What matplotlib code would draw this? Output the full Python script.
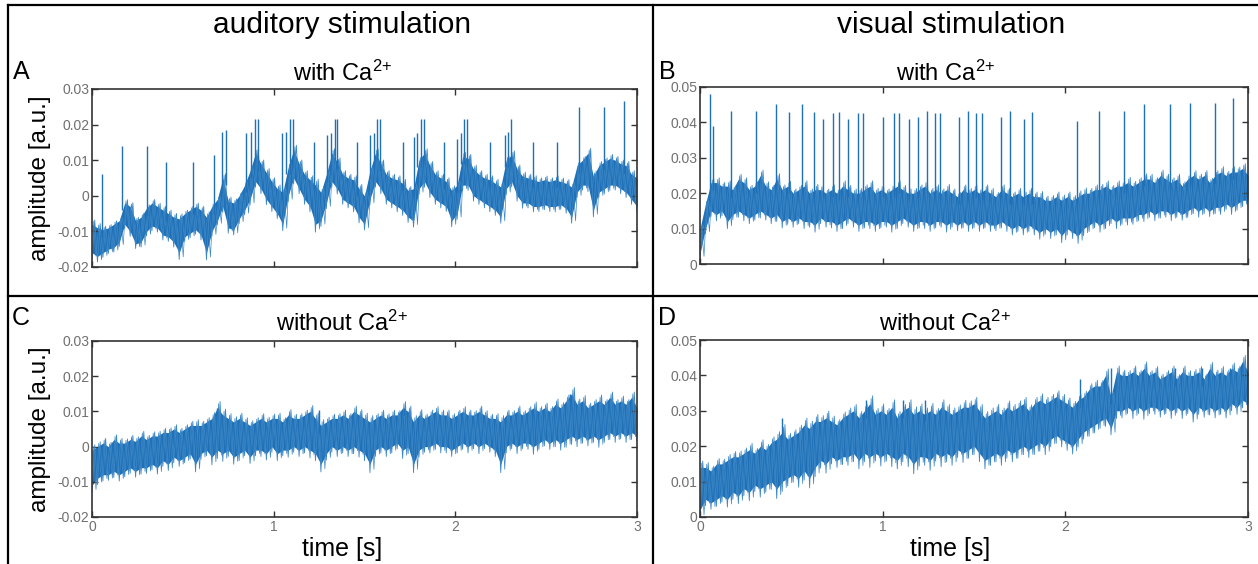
import numpy as np
import matplotlib
matplotlib.use('Agg')
import matplotlib.pyplot as plt
from matplotlib.lines import Line2D

plt.rcParams['font.family'] = ['Liberation Sans', 'DejaVu Sans']
plt.rcParams['mathtext.default'] = 'regular'

# all traces in units of 1e-3 a.u., lower / upper edge of the noise band,
# sampled every 0.03 s from 0 to 3 s
a_lo = [-16, -17, -16, -15, -14.5, -13, -8, -10, -13.5, -13,
        -10, -8.5, -9, -11, -11.5, -13, -16, -11.5, -10.5, -9.5,
        -11, -16, -10, -7, -3, -9, -9.5, -6.5, -4, -1,
        4, 2, -1, -3, -5, -8, 0, 5, 2, -1,
        -3, -8, -7, -2, 4, 2, -1, -2, -3, -6,
        -8, -1, 4, 2, -1, -2, -3, -4, -6, -7,
        2, 4, 1, -1, -2, -3, -7, -5, 3, 3,
        0, -1, -2, -3, -4, -6, 2, 4, 0, -2,
        -2, -3, -3, -2.5, -3, -3, -2.5, -3.5, -6, 1,
        3, 3, -4, 1, 2, 3, 3, 2, 1, -1,
        -3]
a_hi = [-8, -9, -9.5, -9, -8, -7, -2, -3, -7, -6,
        -3.5, -2, -3, -4, -5, -6, -6.5, -5, -4, -3,
        -4, -6, -3, -1, 5, -1.5, -2, 0, 3, 7,
        12, 9, 6.5, 4, 2, 1, 8, 13, 9, 6,
        4.5, 3, 1, 6, 12, 9.5, 6, 5, 4.5, 2,
        0, 7, 12, 9, 6, 5, 4.5, 3.5, 1.5, 2,
        10, 12, 8.5, 6, 5, 4, 1.5, 3, 11, 10.5,
        7.5, 6, 5, 4.5, 3.5, 2.5, 10, 11.5, 7.5, 5.5,
        5, 4.5, 4, 4.5, 4, 4.5, 4, 3.5, 2.5, 8.5,
        10, 12, 5.5, 8.5, 9.5, 10.5, 10, 9, 8.5, 6,
        5]
a_spike_t = [0.053, 0.167, 0.30, 0.41, 0.555, 0.67, 0.715, 0.735,
             0.85, 0.875, 0.895, 0.915, 1.045, 1.07, 1.09, 1.105, 1.22,
             1.295, 1.315, 1.335, 1.35, 1.46, 1.53, 1.55, 1.57, 1.585, 1.71,
             1.77, 1.79, 1.81, 1.825, 1.94, 2.01, 2.03, 2.05, 2.065, 2.19,
             2.275, 2.29, 2.305, 2.43, 2.56, 2.68, 2.82, 2.93]
a_spike_v = [6, 14, 14, 9.5, 9.5, 11.5, 18, 18.5,
             17.5, 18, 21.5, 21.5, 17.5, 18, 21.5, 21.5, 15,
             17, 17.5, 21.5, 21.5, 15, 17, 17.5, 21.5, 21.5, 15,
             16.5, 17.5, 21.5, 21.5, 15, 16, 17.5, 21.5, 21.5, 15,
             17, 18, 21.5, 15, 15, 25, 25, 26.5]

b_lo = [3, 10, 15, 14, 15, 12, 14, 15, 14, 13,
        14, 15, 14, 13, 14, 12, 13, 12, 13, 12,
        12, 11, 13, 12, 12, 11, 12, 13, 12, 11,
        12, 12, 11, 12, 12, 11, 12, 13, 12, 11,
        12, 12, 11, 12, 12, 11, 12, 11, 12, 11,
        12, 11, 12, 11, 11, 12, 11, 10, 11, 10,
        11, 10, 9, 10, 9, 10, 8, 10, 9, 8,
        10, 11, 12, 11, 12, 13, 12, 13, 13, 13,
        14, 14, 15, 14, 15, 15, 14, 15, 14, 15,
        16, 15, 16, 15, 16, 16, 17, 16, 17, 18,
        18]
b_hi = [10, 17, 23, 23, 22, 22, 21, 24, 23, 21,
        22, 25, 22, 21, 24, 21, 22, 20, 21, 22,
        20, 21, 21, 20, 21, 20, 22, 21, 20, 20,
        21, 22, 20, 21, 20, 21, 22, 21, 20, 20,
        21, 22, 20, 21, 20, 21, 20, 19, 21, 20,
        21, 20, 21, 20, 19, 21, 20, 19, 20, 19,
        20, 19, 19, 18, 18, 19, 18, 19, 18, 19,
        20, 20, 21, 21, 22, 21, 22, 22, 23, 22,
        23, 24, 24, 23, 25, 24, 23, 24, 22, 24,
        25, 24, 25, 23, 25, 26, 25, 26, 26, 27,
        25]
b_spike_t = [0.055, 0.07, 0.169, 0.309, 0.418, 0.486, 0.558, 0.626, 0.674,
             0.727, 0.76, 0.812, 0.867, 0.891, 1.0, 1.062, 1.088, 1.143,
             1.193, 1.241, 1.287, 1.316, 1.417, 1.467, 1.513, 1.544, 1.646,
             1.697, 1.774, 1.82, 2.065, 2.183, 2.319, 2.433, 2.573, 2.68,
             2.82, 2.917]
b_spike_v = [48, 39, 43.3, 43.3, 45.2, 43, 45.2, 43, 41,
             42.7, 43, 41, 42.7, 42.7, 41.4, 42.7, 42.7, 41,
             41.4, 43.3, 42.7, 42.7, 41.4, 43.3, 42.7, 42.7, 41.4,
             43.3, 41, 43, 40.5, 43.3, 43.3, 45.2, 45.2, 45.6,
             45.6, 47]

c_lo = [-11, -9, -8, -8, -7, -8, -7, -6, -7, -6,
        -6, -5, -6, -4, -5, -3, -4, -3, -2, -5,
        -2, -1, -3, -1, -2, -1, -3, -2, -1, -3,
        -1, -1, -2, 0, -2, -1, -1, 0, -1, 0,
        -1, -2, -5, -2, 0, -1, 0, -1, 0, -1,
        -2, -5, -1, 0, -1, 0, 1, -1, 0, -5,
        -1, 0, 0, 1, 0, 0, -1, 0, 1, 0,
        1, 0, 1, 0, -1, -5, 0, 1, 0, 1,
        1, 0, 1, 2, 1, 2, 1, 2, 3, 2,
        3, 2, 3, 2, 3, 4, 3, 4, 3, 4,
        3]
c_hi = [-1, 0, 1, 0, 2, 1, 1, 2, 1.5, 3,
        2, 3, 3, 4, 4, 5, 4, 5, 6, 6,
        6, 7, 8, 11, 9, 8, 7, 8, 7, 6,
        7, 8, 7, 8, 8, 7, 9, 8, 8, 9,
        10, 8, 6, 7, 8, 8, 9, 8, 10, 9,
        8, 7, 8, 9, 8, 9, 9, 11, 10, 7,
        9, 8, 9, 10, 9, 9, 8, 9, 10, 9,
        9, 10, 9, 8, 8, 7, 9, 9, 10, 9,
        10, 11, 10, 11, 10, 12, 11, 13, 15, 12,
        13, 11, 12, 13, 12, 14, 12, 13, 12, 14,
        11]
c_spike_t = [0.69, 1.25, 1.72, 2.63]
c_spike_v = [11, 10.5, 11, 15]

d_lo = [2, 5, 4, 5, 6, 5, 7, 6, 8, 7,
        9, 8, 9, 10, 8, 10, 11, 12, 11, 13,
        11, 14, 16, 15, 17, 16, 17, 17, 18, 16,
        18, 17, 18, 17, 18, 17, 16, 18, 17, 15,
        17, 17, 16, 18, 17, 18, 17, 19, 18, 19,
        20, 18, 16, 17, 18, 17, 19, 18, 19, 20,
        19, 20, 21, 20, 22, 23, 22, 21, 20, 22,
        24, 25, 26, 27, 28, 25, 30, 30, 31, 30,
        31, 30, 31, 31, 30, 31, 30, 31, 30, 31,
        29, 31, 30, 31, 30, 31, 30, 32, 31, 33,
        32]
d_hi = [14, 14, 13, 15, 15, 16, 17, 17, 18, 19,
        18, 20, 19, 21, 22, 24, 22, 23, 24, 26,
        25, 27, 27, 28, 27, 26, 28, 29, 30, 28,
        30, 32, 29, 30, 29, 31, 28, 30, 31, 29,
        30, 29, 30, 29, 31, 30, 29, 30, 31, 31,
        32, 30, 28, 29, 30, 29, 31, 30, 31, 32,
        30, 32, 33, 32, 33, 34, 33, 32, 31, 33,
        34, 36, 37, 37, 40, 34, 41, 40, 40, 41,
        40, 42, 40, 41, 39, 40, 41, 39, 41, 40,
        40, 41, 39, 42, 40, 41, 40, 42, 41, 44,
        41]
d_spike_t = [0.45, 0.91, 1.11, 1.23, 2.08, 2.25, 2.6, 2.75, 2.9]
d_spike_v = [28, 33, 33, 33, 39, 42, 42, 42, 42]

ticks_ac = [-0.02, -0.01, 0, 0.01, 0.02, 0.03]
labels_ac = ['-0.02', '-0.01', '0', '0.01', '0.02', '0.03']
ticks_bd = [0, 0.01, 0.02, 0.03, 0.04, 0.05]
labels_bd = ['0', '0.01', '0.02', '0.03', '0.04', '0.05']
time_ticks = [0, 1, 2, 3]

BLUE = '#1f70b6'
EDGE = '#3b86c6'
W, H = 1258, 564


def draw_trace(ax, lo, hi, spike_t, spike_v):
    lo = np.array(lo) * 1e-3
    hi = np.array(hi) * 1e-3
    t = np.linspace(0, 3, len(lo))
    span = hi - lo
    # thin noisy whiskers around the dense core, drawn as two crossing zigzags
    tz = np.column_stack([t, t + 0.015]).ravel()
    yz = np.column_stack([lo - 0.2 * span, hi + 0.15 * span]).ravel()
    ax.plot(tz, yz, color=EDGE, lw=0.6)
    yz2 = np.column_stack([hi + 0.1 * span, lo - 0.12 * span]).ravel()
    ax.plot(tz + 0.007, yz2, color=EDGE, lw=0.5)
    ax.fill_between(t, lo, hi, color=BLUE, lw=0)
    idx = np.clip(np.rint(np.array(spike_t) / 0.03).astype(int), 0, len(hi) - 1)
    ax.vlines(spike_t, hi[idx] - 0.002, np.array(spike_v) * 1e-3, color=BLUE, lw=1.0)


def style(ax, ticks, labels, show_x):
    ax.set_xlim(0, 3)
    ax.set_ylim(ticks[0], ticks[-1])
    ax.set_yticks(ticks)
    ax.set_yticklabels(labels)
    ax.set_xticks(time_ticks)
    if show_x:
        ax.set_xticklabels([str(v) for v in time_ticks])
    else:
        ax.set_xticklabels([])
    ax.tick_params(direction='in', top=True, right=True, length=4, width=1,
                   color='#333333', labelcolor='#707070', labelsize=10, pad=2)
    for s in ax.spines.values():
        s.set_color('#333333')
        s.set_linewidth(1.2)


def box(px_left, px_top, px_right, px_bottom):
    return [px_left / W, 1 - px_bottom / H, (px_right - px_left) / W, (px_bottom - px_top) / H]


fig = plt.figure(figsize=(W / 100, H / 100), dpi=100)

ax_a = fig.add_axes(box(92, 89, 637, 267))
ax_b = fig.add_axes(box(700, 87, 1248, 264))
ax_c = fig.add_axes(box(92, 341, 637, 517))
ax_d = fig.add_axes(box(700, 340, 1248, 517))

draw_trace(ax_a, a_lo, a_hi, a_spike_t, a_spike_v)
draw_trace(ax_b, b_lo, b_hi, b_spike_t, b_spike_v)
draw_trace(ax_c, c_lo, c_hi, c_spike_t, c_spike_v)
draw_trace(ax_d, d_lo, d_hi, d_spike_t, d_spike_v)

style(ax_a, ticks_ac, labels_ac, False)
style(ax_b, ticks_bd, labels_bd, False)
style(ax_c, ticks_ac, labels_ac, True)
style(ax_d, ticks_bd, labels_bd, True)

# frame lines of the figure
for (x0, y0, x1, y1) in [(8, 5, 1258, 5), (8, 296, 1258, 296), (8, 5, 8, 564), (653, 5, 653, 564)]:
    fig.add_artist(Line2D([x0 / W, x1 / W], [1 - y0 / H, 1 - y1 / H],
                          transform=fig.transFigure, color='black', lw=1.6))


def ftext(x, y, s, **kw):
    fig.text(x / W, 1 - y / H, s, ha='center', va='center', **kw)


ca = 'Ca$^{2{+}}$'
ftext(342, 25, 'auditory stimulation', fontsize=21.5)
ftext(951, 25, 'visual stimulation', fontsize=21.5)
ftext(342, 73, 'with ' + ca, fontsize=17)
ftext(945, 73, 'with ' + ca, fontsize=17)
ftext(342, 323, 'without ' + ca, fontsize=17)
ftext(945, 323, 'without ' + ca, fontsize=17)
ftext(21, 72, 'A', fontsize=18)
ftext(667, 72, 'B', fontsize=18)
ftext(21, 318, 'C', fontsize=18)
ftext(667, 318, 'D', fontsize=18)
ftext(40, 178, 'amplitude [a.u.]', fontsize=17.5, rotation=90)
ftext(40, 429, 'amplitude [a.u.]', fontsize=17.5, rotation=90)
ftext(342, 549, 'time [s]', fontsize=18)
ftext(950, 549, 'time [s]', fontsize=18)

fig.savefig('out.png', dpi=100)
